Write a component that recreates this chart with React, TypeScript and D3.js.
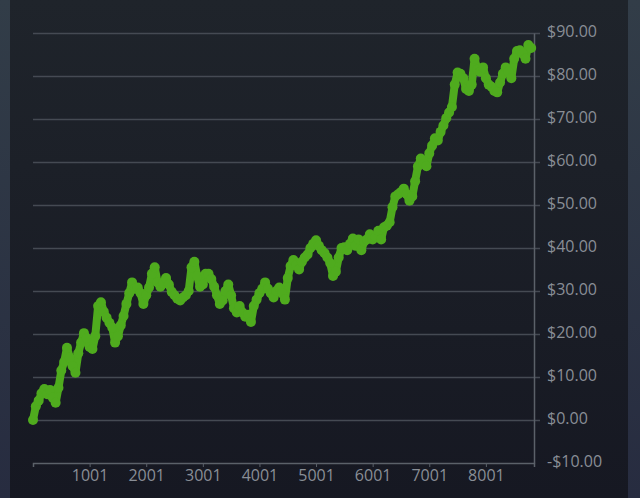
import { useEffect, useRef } from "react";
import * as d3 from "d3";

// ─── Data (one sample every 50 steps) ────────────────────────────────────────
const sampleStart = 1;
const sampleStep = 50;

const prices = [
  0.0, 3.2, 4.5, 6.2, 7.2, 6.0, 7.0, 5.2, 4.0, 7.5,
  11.5, 13.5, 16.8, 14.5, 12.5, 11.0, 15.5, 18.0, 20.2, 19.0,
  17.0, 16.5, 19.5, 26.5, 27.4, 25.2, 23.8, 22.6, 21.5, 18.0,
  19.5, 22.0, 24.2, 27.0, 29.5, 32.0, 30.5, 30.8, 29.5, 27.0,
  29.0, 30.8, 34.0, 35.5, 32.0, 31.0, 31.8, 33.0, 31.5, 29.8,
  29.0, 28.2, 27.8, 28.5, 29.0, 30.0, 35.5, 36.8, 33.5, 31.0,
  31.5, 34.0, 34.0, 32.8, 31.0, 29.0, 27.0, 27.8, 30.0, 31.5,
  29.0, 26.0, 25.0, 26.5, 25.0, 24.0, 24.5, 22.8, 26.5, 28.0,
  29.5, 30.5, 32.0, 30.5, 29.5, 28.5, 30.0, 30.8, 29.5, 28.0,
  33.0, 35.8, 37.2, 36.0, 35.0, 36.8, 37.8, 38.5, 40.0, 41.0,
  41.8, 40.5, 39.5, 38.8, 37.8, 36.5, 33.5, 34.5, 37.8, 40.0,
  40.2, 39.5, 41.0, 42.2, 40.5, 42.0, 39.5, 41.5, 42.0, 43.2,
  42.0, 42.5, 44.0, 42.0, 44.8, 45.2, 46.0, 49.5, 52.0, 52.5,
  53.0, 53.8, 52.5, 51.0, 52.0, 55.5, 59.0, 60.8, 59.5, 59.0,
  62.0, 63.8, 65.5, 65.0, 67.0, 68.5, 70.2, 71.5, 72.8, 78.0,
  80.8, 80.5, 79.5, 77.0, 76.5, 78.0, 84.0, 81.5, 81.0, 82.0,
  79.5, 78.0, 77.5, 76.5, 76.2, 78.5, 80.5, 82.0, 81.0, 79.5,
  84.0, 85.8, 86.0, 85.2, 84.0, 87.2, 86.5,
];

const xTickValues = [1, 1001, 2001, 3001, 4001, 5001, 6001, 7001, 8001];
const yTickValues = [-10, 0, 10, 20, 30, 40, 50, 60, 70, 80, 90];

export default function App() {
  const svgRef = useRef<SVGSVGElement>(null);

  useEffect(() => {
    if (!svgRef.current) return;
    document.body.style.margin = "0";

    const width = 640;
    const height = 498;
    const plot = { left: 33, right: 534, top: 33, bottom: 463 };
    const font = "'Open Sans', 'Noto Sans', sans-serif";

    const svg = d3.select(svgRef.current);
    svg.selectAll("*").remove();

    // ── Backgrounds ────────────────────────────────────────────────────────
    const defs = svg.append("defs");
    const edge = defs
      .append("linearGradient")
      .attr("id", "edge")
      .attr("x1", 0).attr("y1", 0).attr("x2", 0).attr("y2", 1);
    edge.append("stop").attr("offset", "0%").attr("stop-color", "#323d48");
    edge.append("stop").attr("offset", "100%").attr("stop-color", "#272c40");

    const panel = defs
      .append("linearGradient")
      .attr("id", "panel")
      .attr("x1", 0).attr("y1", 0).attr("x2", 0).attr("y2", 1);
    panel.append("stop").attr("offset", "0%").attr("stop-color", "#1f242b");
    panel.append("stop").attr("offset", "100%").attr("stop-color", "#161822");

    svg.append("rect").attr("width", width).attr("height", height).attr("fill", "url(#edge)");
    svg.append("rect")
      .attr("x", 10).attr("y", 0)
      .attr("width", 618).attr("height", height)
      .attr("fill", "url(#panel)");

    // ── Scales ─────────────────────────────────────────────────────────────
    const data = prices.map((v, i) => ({ idx: sampleStart + i * sampleStep, v }));

    const x = d3.scaleLinear().domain([1, 8851]).range([plot.left, plot.right]);
    const y = d3.scaleLinear().domain([-10, 90]).range([plot.bottom, plot.top]);

    // ── Grid lines ─────────────────────────────────────────────────────────
    const grid = svg
      .append("g")
      .attr("transform", `translate(${plot.left},0)`)
      .call(
        d3.axisRight(y)
          .tickValues(yTickValues.filter((d) => d !== -10))
          .tickSize(plot.right - plot.left + 6)
          .tickFormat(() => "")
      );
    grid.select(".domain").remove();
    grid.selectAll("line").attr("stroke", "#454a53").attr("stroke-width", 1.5);

    // ── Right axis labels ──────────────────────────────────────────────────
    const yAxis = svg
      .append("g")
      .attr("transform", `translate(${plot.right},0)`)
      .call(
        d3.axisRight(y)
          .tickValues(yTickValues)
          .tickSize(0)
          .tickPadding(13)
          .tickFormat((d) => {
            const n = +d;
            return (n < 0 ? "-$" : "$") + Math.abs(n).toFixed(2);
          })
      );
    yAxis.select(".domain").attr("stroke", "#5b6169").attr("stroke-width", 1.5);
    yAxis.selectAll("text")
      .attr("fill", "#898e96")
      .attr("font-family", font)
      .attr("font-size", 16)
      .attr("dy", "0.22em");

    // ── Bottom axis ────────────────────────────────────────────────────────
    const xAxis = svg
      .append("g")
      .attr("transform", `translate(0,${plot.bottom})`)
      .call(
        d3.axisBottom(x)
          .tickValues(xTickValues)
          .tickSize(4)
          .tickPadding(3)
          .tickFormat((d) => (+d === 1 ? "" : String(d)))
      );
    xAxis.select(".domain").attr("stroke", "#5b6169").attr("stroke-width", 1.5);
    xAxis.selectAll("line").attr("stroke", "#5b6169");
    xAxis.selectAll("text")
      .attr("fill", "#898e96")
      .attr("font-family", font)
      .attr("font-size", 16);

    // ── Price line + dots (thick, dense band) ──────────────────────────────
    const green = "#4fab1e";
    const line = d3
      .line<{ idx: number; v: number }>()
      .x((d) => x(d.idx))
      .y((d) => y(d.v));

    svg.append("path")
      .datum(data)
      .attr("d", line)
      .attr("fill", "none")
      .attr("stroke", green)
      .attr("stroke-width", 8)
      .attr("stroke-linejoin", "round")
      .attr("stroke-linecap", "round");

    svg.append("g")
      .selectAll("circle")
      .data(data)
      .enter()
      .append("circle")
      .attr("cx", (d) => x(d.idx))
      .attr("cy", (d) => y(d.v))
      .attr("r", 5)
      .attr("fill", green);
  }, []);

  return <svg ref={svgRef} width={640} height={498} style={{ display: "block" }} />;
}
